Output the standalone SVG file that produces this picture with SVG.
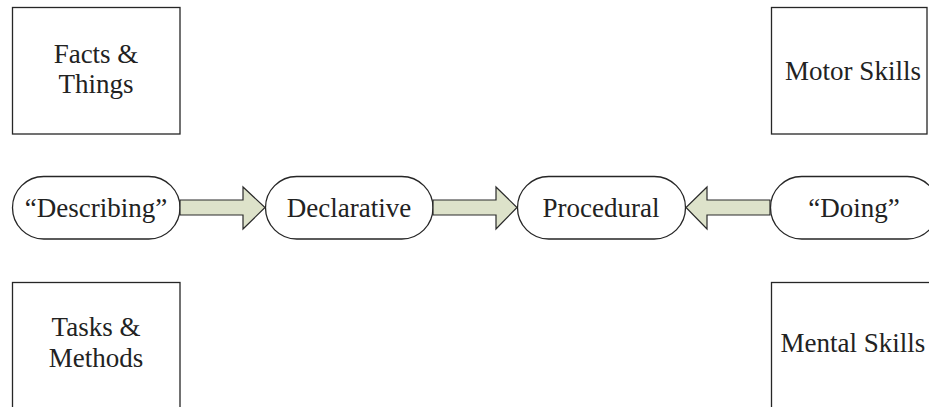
<svg xmlns="http://www.w3.org/2000/svg" width="929" height="407" viewBox="0 0 929 407">
  <style>
    .box { fill: #ffffff; stroke: #262626; stroke-width: 1.3; }
    .pill { fill: #ffffff; stroke: #262626; stroke-width: 1.3; }
    .lbl { font-family: "Liberation Serif", "Times New Roman", serif; font-size: 27px; fill: #222222; text-anchor: middle; }
    .arrow { fill: #dde2ca; stroke: #2a2a2a; stroke-width: 1.2; stroke-linejoin: miter; }
  </style>
  <rect width="929" height="407" fill="#ffffff"/>

  <!-- corner category boxes -->
  <g id="facts-things">
    <rect class="box" x="12.5" y="7.5" width="167.5" height="126.5"/>
    <text class="lbl" x="96" y="63">Facts &amp;</text>
    <text class="lbl" x="96" y="93">Things</text>
  </g>
  <g id="motor-skills">
    <rect class="box" x="771.5" y="7.5" width="155.5" height="126.5"/>
    <text class="lbl" x="853" y="80">Motor Skills</text>
  </g>
  <g id="tasks-methods">
    <rect class="box" x="12.5" y="282.5" width="167.5" height="140"/>
    <text class="lbl" x="96" y="336">Tasks &amp;</text>
    <text class="lbl" x="96" y="367">Methods</text>
  </g>
  <g id="mental-skills">
    <rect class="box" x="771.5" y="282.5" width="170" height="140"/>
    <text class="lbl" x="853" y="352">Mental Skills</text>
  </g>

  <!-- knowledge chain -->
  <g id="describing">
    <rect class="pill" x="12.5" y="176.5" width="167.5" height="62.5" rx="31.25" ry="31.25"/>
    <text class="lbl" x="96" y="217">“Describing”</text>
  </g>
  <g id="declarative">
    <rect class="pill" x="265.5" y="176.5" width="167.5" height="62.5" rx="31.25" ry="31.25"/>
    <text class="lbl" x="349" y="217">Declarative</text>
  </g>
  <g id="procedural">
    <rect class="pill" x="517.5" y="176.5" width="168" height="62.5" rx="31.25" ry="31.25"/>
    <text class="lbl" x="601" y="217">Procedural</text>
  </g>
  <g id="doing">
    <rect class="pill" x="770.5" y="176.5" width="168" height="62.5" rx="31.25" ry="31.25"/>
    <text class="lbl" x="854" y="217">“Doing”</text>
  </g>

  <!-- block arrows between the chain nodes -->
  <g id="connectors">
    <polygon class="arrow" points="180,200 243,200 243,187 265,207.5 243,229 243,215 180,215"/>
    <polygon class="arrow" points="433,200 496,200 496,187 517,207.5 496,229 496,215 433,215"/>
    <polygon class="arrow" points="770,200 707,200 707,187 686,207.5 707,229 707,215 770,215"/>
  </g>
</svg>
